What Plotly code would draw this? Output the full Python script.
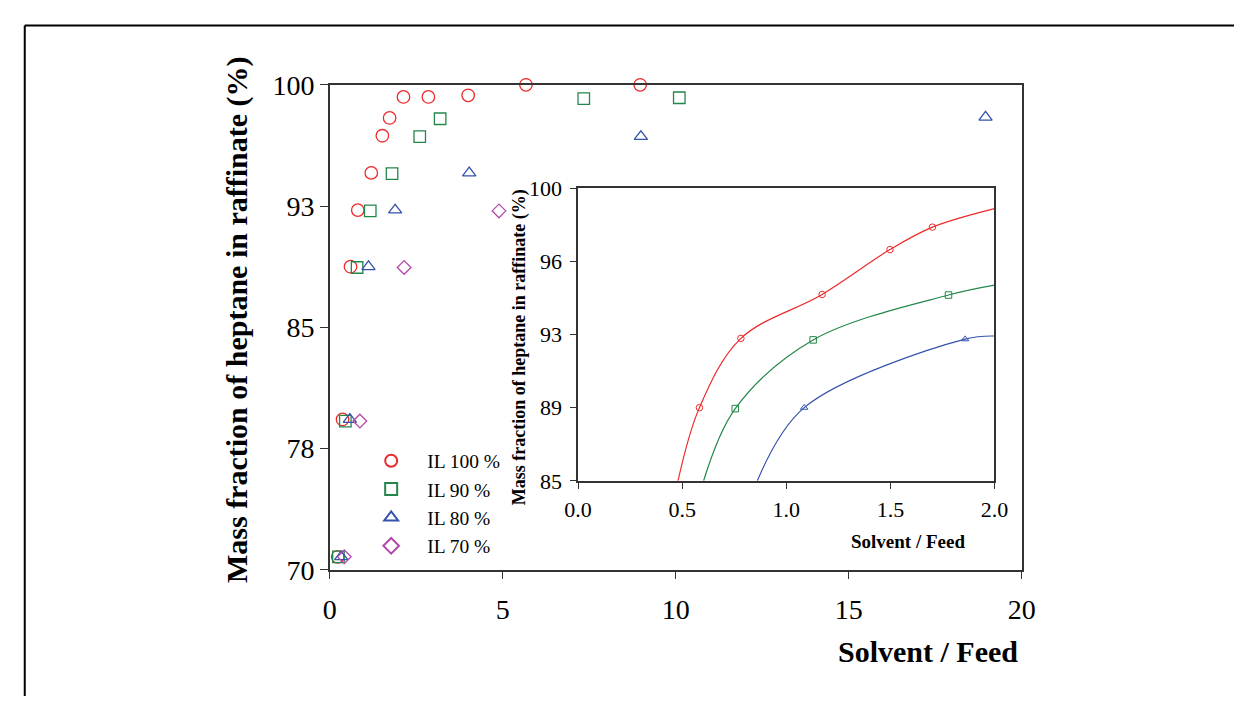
import plotly.graph_objects as go

W, H = 1248, 712

# ---------------- main chart data ----------------
il100_x = [0.23, 0.37, 0.60, 0.81, 1.20, 1.52, 1.73, 2.13, 2.85, 4.00, 5.67, 8.97]
il100_y = [70.8, 79.3, 88.75, 92.25, 94.55, 96.85, 97.95, 99.25, 99.25, 99.35, 100.0, 100.0]
il90_x = [0.25, 0.45, 0.79, 1.17, 1.80, 2.60, 3.19, 7.34, 10.10]
il90_y = [70.8, 79.2, 88.7, 92.2, 94.5, 96.8, 97.9, 99.15, 99.2]
il80_x = [0.33, 0.58, 1.12, 1.89, 4.03, 8.99, 18.95]
il80_y = [70.8, 79.3, 88.75, 92.25, 94.55, 96.8, 98.0]
il70_x = [0.42, 0.87, 2.15, 4.89]
il70_y = [70.8, 79.2, 88.7, 92.2]

main_yticks = [70, 77.5, 85, 92.5, 100]
main_yticktext = ["70", "78", "85", "93", "100"]
main_xticks = [0, 5, 10, 15, 20]

# ---------------- inset data ----------------
in100_x = [0.583, 0.782, 1.172, 1.498, 1.702]
in100_y = [88.75, 92.3, 94.55, 96.85, 98.0]
in90_x = [0.755, 1.129, 1.779]
in90_y = [88.7, 92.22, 94.52]
in80_x = [1.086, 1.859]
in80_y = [88.75, 92.26]
# fitted curves (trend lines) through the inset points
fit100_x = [0.48, 0.583, 0.782, 1.172, 1.498, 1.702, 2.0]
fit100_y = [85.0, 88.75, 92.3, 94.55, 96.85, 98.0, 98.95]
fit90_x = [0.603, 0.755, 1.129, 1.779, 2.0]
fit90_y = [85.0, 88.7, 92.22, 94.52, 95.03]
fit80_x = [0.861, 1.086, 1.859, 2.0]
fit80_y = [85.0, 88.75, 92.26, 92.42]

inset_yticks = [85, 88.75, 92.5, 96.25, 100]
inset_yticktext = ["85", "89", "93", "96", "100"]
inset_xticks = [0.0, 0.5, 1.0, 1.5, 2.0]
inset_xticktext = ["0.0", "0.5", "1.0", "1.5", "2.0"]

series_names = ["IL 100 %", "IL 90 %", "IL 80 %", "IL 70 %"]

RED = "#ec2a2c"
GREEN = "#23874a"
BLUE = "#3553ae"
MAG = "#b548ad"
SERIF = "Liberation Serif"
AX = "#333333"

fig = go.Figure()

main = [
    (il100_x, il100_y, "circle-open", RED, 12.5),
    (il90_x, il90_y, "square-open", GREEN, 11.5),
    (il80_x, il80_y, "triangle-up-open", BLUE, 11.5),
    (il70_x, il70_y, "diamond-open", MAG, 10.5),
]
for (xs, ys, sym, col, sz), name in zip(main, series_names):
    fig.add_trace(go.Scatter(
        x=xs, y=ys, mode="markers", name=name, cliponaxis=False,
        marker=dict(symbol=sym, size=sz, color=col, line=dict(color=col, width=1.3)),
        xaxis="x", yaxis="y"))

fits = [(fit100_x, fit100_y, RED), (fit90_x, fit90_y, GREEN), (fit80_x, fit80_y, BLUE)]
for xs, ys, col in fits:
    fig.add_trace(go.Scatter(
        x=xs, y=ys, mode="lines", showlegend=False, hoverinfo="skip",
        line=dict(color=col, width=1.2, shape="spline", smoothing=1.0),
        xaxis="x2", yaxis="y2"))

inset = [
    (in100_x, in100_y, "circle-open", RED),
    (in90_x, in90_y, "square-open", GREEN),
    (in80_x, in80_y, "triangle-up-open", BLUE),
]
for xs, ys, sym, col in inset:
    fig.add_trace(go.Scatter(
        x=xs, y=ys, mode="markers", showlegend=False, cliponaxis=False,
        marker=dict(symbol=sym, size=6.5, color=col, line=dict(color=col, width=1)),
        xaxis="x2", yaxis="y2"))


def px_x(p):
    return p / W


def px_y(p):
    return 1 - p / H


axis_common = dict(showline=True, linecolor=AX, linewidth=1.5, mirror=True,
                   showgrid=False, zeroline=False, ticks="outside",
                   tickcolor=AX, tickwidth=1.2)

fig.update_layout(
    width=W, height=H,
    margin=dict(l=0, r=0, t=0, b=0),
    paper_bgcolor="white", plot_bgcolor="white",
    font=dict(family=SERIF, color="black"),
    xaxis=dict(domain=[px_x(323), px_x(1031)], range=[0, 20], tickvals=main_xticks,
               ticklen=8, tickfont=dict(size=28, family=SERIF), ticklabelstandoff=6,
               anchor="y", **axis_common),
    yaxis=dict(domain=[px_y(580), px_y(73)], range=[70, 100], tickvals=main_yticks,
               ticktext=main_yticktext, ticklen=8, tickfont=dict(size=28, family=SERIF),
               anchor="x", **axis_common),
    xaxis2=dict(domain=[px_x(577), px_x(1003)], range=[0, 2], tickvals=inset_xticks,
                ticktext=inset_xticktext, ticklen=6, tickfont=dict(size=22, family=SERIF),
                ticklabelstandoff=2, anchor="y2", **axis_common),
    yaxis2=dict(domain=[px_y(487), px_y(181)], range=[85, 100], tickvals=inset_yticks,
                ticktext=inset_yticktext, ticklen=6, tickfont=dict(size=22, family=SERIF),
                ticklabelstandoff=4, anchor="x2", **axis_common),
    legend=dict(x=px_x(349), y=px_y(446), xanchor="left", yanchor="top",
                bgcolor="rgba(0,0,0,0)", font=dict(size=19.5, family=SERIF),
                itemsizing="constant", itemwidth=62, tracegroupgap=0),
    showlegend=True,
)

annotations = [
    dict(text="<b>Mass fraction of heptane in raffinate (%)</b>", x=px_x(228), y=px_y(318),
         textangle=-90, font=dict(size=30, family=SERIF)),
    dict(text="<b>Solvent / Feed</b>", x=px_x(1029), y=px_y(665), xanchor="right",
         font=dict(size=30, family=SERIF)),
    dict(text="<b>Mass fraction of heptane in raffinate (%)</b>", x=px_x(517), y=px_y(347),
         textangle=-90, font=dict(size=18, family=SERIF)),
    dict(text="<b>Solvent / Feed</b>", x=px_x(915), y=px_y(550),
         font=dict(size=19, family=SERIF)),
]
for a in annotations:
    a.update(xref="paper", yref="paper", showarrow=False)
    a.setdefault("xanchor", "center")
    a.setdefault("yanchor", "middle")
fig.update_layout(annotations=annotations)

# outer frame (top and left edges visible)
fig.add_shape(type="line", xref="paper", yref="paper", x0=px_x(11), x1=1.0,
              y0=px_y(11), y1=px_y(11), line=dict(color="black", width=2))
fig.add_shape(type="line", xref="paper", yref="paper", x0=px_x(11), x1=px_x(11),
              y0=0.0, y1=px_y(11), line=dict(color="black", width=2))

fig.write_html("out.html")
